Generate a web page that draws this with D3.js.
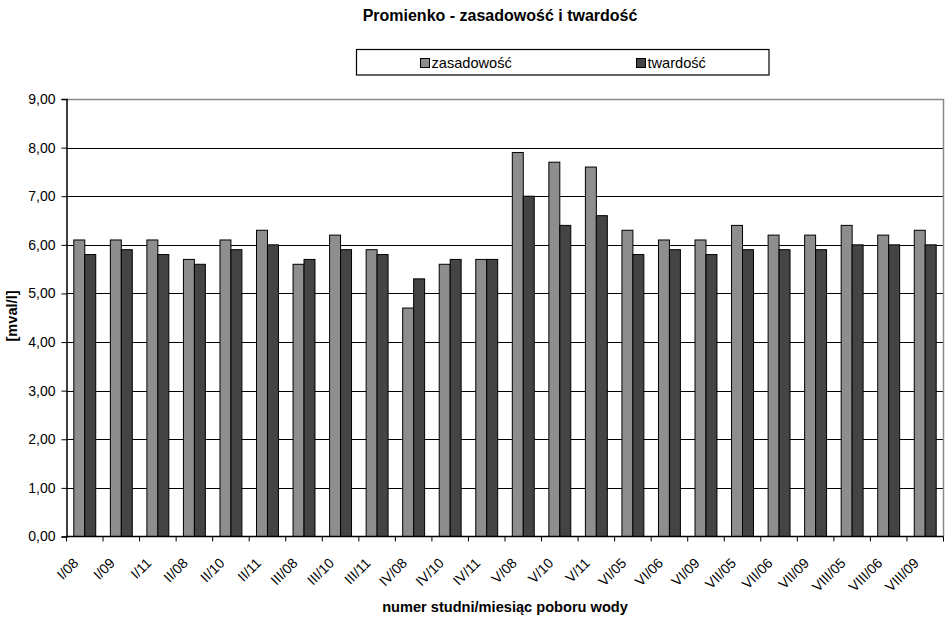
<!DOCTYPE html>
<html>
<head>
<meta charset="utf-8">
<script src="https://cdn.jsdelivr.net/npm/d3@7"></script>
<style>
  body { margin: 0; background: #fff; }
  svg { display: block; font-family: Arial, "Liberation Sans", sans-serif; }
</style>
</head>
<body>
<svg id="chart" width="945" height="618"></svg>
<script>
// Well numbers / sampling months
const categories = ["I/08", "I/09", "I/11", "II/08", "II/10", "II/11", "III/08", "III/10", "III/11",
  "IV/08", "IV/10", "IV/11", "V/08", "V/10", "V/11", "VI/05", "VI/06", "VI/09",
  "VII/05", "VII/06", "VII/09", "VIII/05", "VIII/06", "VIII/09"];
// Alkalinity [mval/l]
const zasadowosc = [6.1, 6.1, 6.1, 5.7, 6.1, 6.3, 5.6, 6.2, 5.9, 4.7, 5.6, 5.7,
  7.9, 7.7, 7.6, 6.3, 6.1, 6.1, 6.4, 6.2, 6.2, 6.4, 6.2, 6.3];
// Hardness [mval/l]
const twardosc = [5.8, 5.9, 5.8, 5.6, 5.9, 6.0, 5.7, 5.9, 5.8, 5.3, 5.7, 5.7,
  7.0, 6.4, 6.6, 5.8, 5.9, 5.8, 5.9, 5.9, 5.9, 6.0, 6.0, 6.0];
const seriesNames = ["zasadowość", "twardość"];
const yTicks = [0, 1, 2, 3, 4, 5, 6, 7, 8, 9];

const colors = { "zasadowość": "#8e8e8e", "twardość": "#444444" };
const seriesData = { "zasadowość": zasadowosc, "twardość": twardosc };

const svg = d3.select("#chart");
const plotLeft = 66.5, plotRight = 943.5, plotTop = 99, plotBottom = 536.5;

const x = d3.scaleBand().domain(categories).range([plotLeft, plotRight]).paddingInner(0).paddingOuter(0);
const xs = d3.scaleBand().domain(seriesNames).range([0.2 * x.bandwidth(), 0.8 * x.bandwidth()]);
const y = d3.scaleLinear().domain([0, 9]).range([plotBottom, plotTop]);

const loc = d3.formatLocale({ decimal: ",", thousands: " ", grouping: [3], currency: ["", ""] });
const fmt = loc.format(".2f");

// horizontal gridlines
svg.append("g").selectAll("line")
  .data(yTicks.filter(d => d > 0 && d < 9))
  .join("line")
  .attr("x1", plotLeft).attr("x2", plotRight)
  .attr("y1", d => Math.round(y(d)) + 0.5).attr("y2", d => Math.round(y(d)) + 0.5)
  .attr("stroke", "#000").attr("stroke-width", 1);

// plot area border (top and right)
svg.append("path")
  .attr("d", `M${plotLeft},${Math.round(plotTop) + 0.5}H${plotRight}V${plotBottom}`)
  .attr("fill", "none").attr("stroke", "#8a8a8a").attr("stroke-width", 1.5);

// bars
const groups = svg.append("g").selectAll("g")
  .data(categories)
  .join("g")
  .attr("transform", d => `translate(${x(d)},0)`);

groups.selectAll("rect")
  .data((c, i) => seriesNames.map(s => ({ s, v: seriesData[s][i] })))
  .join("rect")
  .attr("x", d => xs(d.s))
  .attr("width", xs.bandwidth())
  .attr("y", d => y(d.v))
  .attr("height", d => y(0) - y(d.v))
  .attr("fill", d => colors[d.s])
  .attr("stroke", "#000")
  .attr("stroke-width", 1);

// y axis
const yAxis = svg.append("g")
  .attr("transform", `translate(${plotLeft},0)`)
  .call(d3.axisLeft(y).tickValues(yTicks).tickFormat(fmt).tickSize(5).tickPadding(6));
yAxis.select(".domain").attr("stroke", "#000").attr("stroke-width", 1.5);
yAxis.selectAll(".tick line").attr("stroke", "#000");
yAxis.selectAll("text").attr("font-size", 14).attr("fill", "#000")
  .attr("font-family", "Arial, 'Liberation Sans', sans-serif");

// x axis: ticks at category boundaries
const xAxisG = svg.append("g");
xAxisG.append("line")
  .attr("x1", plotLeft).attr("x2", plotRight)
  .attr("y1", plotBottom).attr("y2", plotBottom)
  .attr("stroke", "#000").attr("stroke-width", 1.5);
xAxisG.selectAll(".bt")
  .data(categories.map(c => x(c)).concat([plotRight]))
  .join("line")
  .attr("class", "bt")
  .attr("x1", d => d).attr("x2", d => d)
  .attr("y1", plotBottom).attr("y2", plotBottom + 5)
  .attr("stroke", "#000");
xAxisG.selectAll("text")
  .data(categories)
  .join("text")
  .attr("transform", d => `translate(${x(d) + x.bandwidth() / 2 - 9},${plotBottom + 24}) rotate(-45)`)
  .attr("text-anchor", "end")
  .attr("font-size", 14)
  .attr("dy", "0.35em")
  .text(d => d);

// title
svg.append("text")
  .attr("x", 500).attr("y", 21)
  .attr("text-anchor", "middle")
  .attr("font-size", 16).attr("font-weight", "bold")
  .text("Promienko - zasadowość i twardość");

// axis titles
svg.append("text")
  .attr("x", 505).attr("y", 612)
  .attr("text-anchor", "middle")
  .attr("font-size", 14.6).attr("font-weight", "bold")
  .text("numer studni/miesiąc poboru wody");

svg.append("text")
  .attr("transform", "translate(17,316) rotate(-90)")
  .attr("text-anchor", "middle")
  .attr("font-size", 14.6).attr("font-weight", "bold")
  .text("[mval/l]");

// legend
const legend = svg.append("g");
legend.append("rect")
  .attr("x", 356.5).attr("y", 49.5).attr("width", 412.5).attr("height", 25.5)
  .attr("fill", "#fff").attr("stroke", "#000").attr("stroke-width", 1.2);
const legendX = { "zasadowość": 420, "twardość": 636 };
const li = legend.selectAll("g.item").data(seriesNames).join("g")
  .attr("class", "item")
  .attr("transform", d => `translate(${legendX[d]},58)`);
li.append("rect")
  .attr("x", 0.5).attr("y", 0.5).attr("width", 9).attr("height", 9)
  .attr("fill", d => colors[d]).attr("stroke", "#000");
li.append("text")
  .attr("x", 11.5).attr("y", 10)
  .attr("font-size", 14.6)
  .text(d => d);
</script>
</body>
</html>
